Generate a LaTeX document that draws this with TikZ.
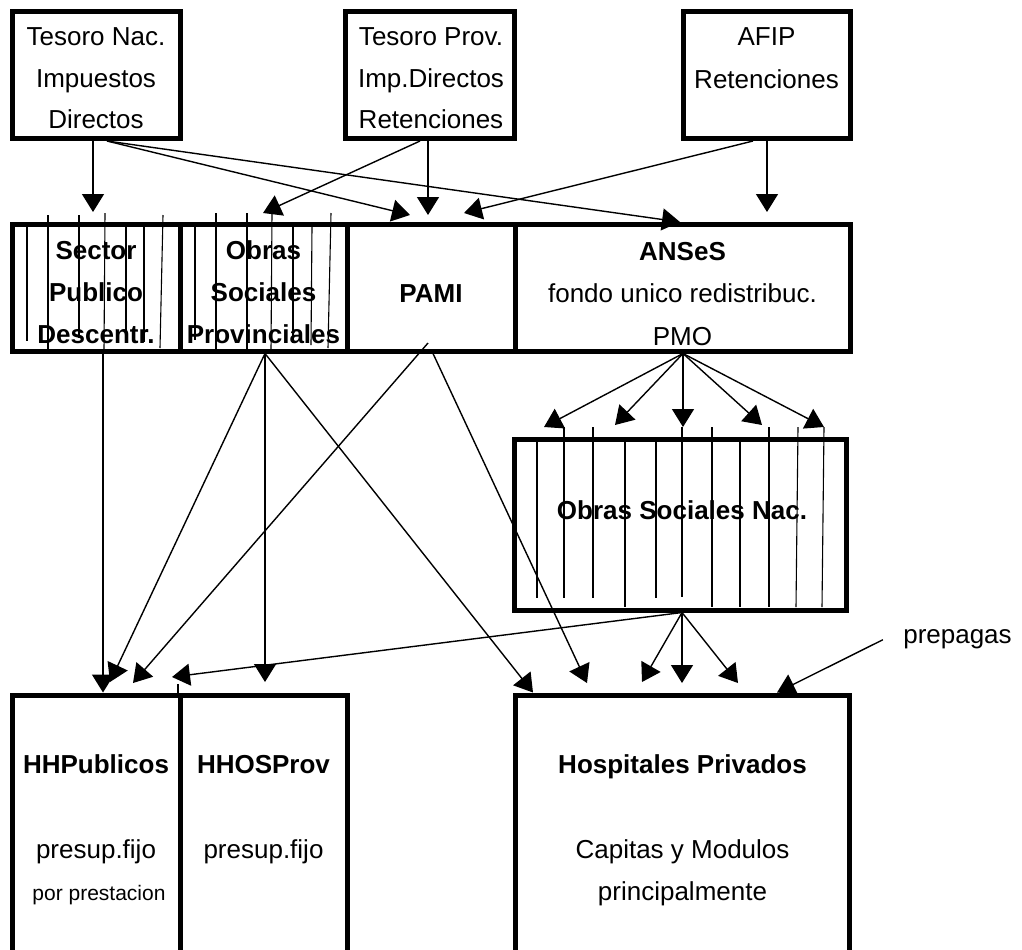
\documentclass[tikz,border=0pt]{standalone}
\usepackage{fontspec}
\setmainfont{Liberation Sans}
\usetikzlibrary{arrows.meta,calc}
\begin{document}
\begin{tikzpicture}[x=0.5pt,y=-0.5pt,
  bx/.style={draw, rectangle, line width=2.5pt, inner sep=0pt, outer sep=1.25pt},
  txt/.style={inner sep=0pt, anchor=base, font=\fontsize{13pt}{15pt}\selectfont},
  btxt/.style={inner sep=0pt, anchor=base, font=\fontsize{13pt}{15pt}\selectfont\bfseries},
  stxt/.style={inner sep=0pt, anchor=base, font=\fontsize{10.5pt}{12pt}\selectfont},
  conn/.style={line width=0.7pt, -{Triangle[length=9pt,width=11pt]}},
  hatch/.style={line width=0.55pt}]
\useasboundingbox (0,0) rectangle (1022,949);
\clip (0,0) rectangle (1022,949);

% ---- boxes ----
\node[bx, minimum width=84pt, minimum height=63.75pt] (tn) at (96,74.75) {};
\node[bx, minimum width=84.5pt, minimum height=63.75pt] (tp) at (430,74.75) {};
\node[bx, minimum width=83.5pt, minimum height=63.75pt] (afip) at (766.5,74.75) {};
\node[bx, minimum width=83.75pt, minimum height=63.25pt] (sec) at (96.25,287.75) {};
\node[bx, minimum width=83.5pt, minimum height=63.25pt] (osp) at (263.5,287.75) {};
\node[bx, minimum width=84pt, minimum height=63.25pt] (pami) at (431,287.75) {};
\node[bx, minimum width=167.5pt, minimum height=63.25pt] (anses) at (682.5,287.75) {};
\node[bx, minimum width=165.75pt, minimum height=85.25pt] (osn) at (680.25,524.75) {};
\node[bx, minimum width=83.75pt, minimum height=155pt] (hhp) at (96.25,850) {};
\node[bx, minimum width=83.5pt, minimum height=155pt] (hhos) at (263.5,850) {};
\node[bx, minimum width=167pt, minimum height=155pt] (hpriv) at (682.5,850) {};

% ---- hatching ----
\foreach \xa/\ya/\xb/\yb in {27/227/27/341, 48/215/48/350, 79/215/79/338, 105/213/104/351,
  126/227/126/337, 144/227/144/342, 163/215/160/348,
  195/227/195/340, 216/213/216/351, 247/213/247/351, 272/213/271/351,
  293/227/293/343, 312/227/311/345, 331/213/328/348,
  537/442/537/598, 564/427/564/598, 593/427/593/598, 625/442/625/607,
  656/442/656/598, 682/427/682/597, 712/427/712/607, 740/442/740/607,
  769/427/769/607, 798/427/796/607, 824/427/822/607, 178/684/178/694}
  \draw[hatch] (\xa,\ya) -- (\xb,\yb);

% ---- texts ----
\node[txt] (tn1) at (96,45) {Tesoro Nac.};
\node[txt] (tn2) at (96,87) {Impuestos};
\node[txt] (tn3) at (96,128) {Directos};
\node[txt] (tp1) at (431,45) {Tesoro Prov.};
\node[txt] (tp2) at (431,87) {Imp.Directos};
\node[txt] (tp3) at (431,128) {Retenciones};
\node[txt] (af1) at (766.5,45) {AFIP};
\node[txt] (af2) at (766.5,88) {Retenciones};
\node[btxt] (se1) at (96,259) {Sector};
\node[btxt] (se2) at (96,301) {Publico};
\node[btxt] (se3) at (96,343) {Descentr.};
\node[btxt] (op1) at (263.5,259) {Obras};
\node[btxt] (op2) at (263.5,301) {Sociales};
\node[btxt] (op3) at (263.5,343) {Provinciales};
\node[btxt] (pa1) at (431,302) {PAMI};
\node[btxt] (an1) at (682.5,260) {ANSeS};
\node[txt] (an2) at (682.5,302) {fondo unico redistribuc.};
\node[txt] (an3) at (682.5,345) {PMO};
\node[btxt] (on1) at (682,519) {Obras Sociales Nac.};
\node[btxt] (hp1) at (96,773) {HHPublicos};
\node[txt] (hp2) at (96,858) {presup.fijo};
\node[stxt] (hp3) at (99,900) {por prestacion};
\node[btxt] (ho1) at (263.5,773) {HHOSProv};
\node[txt] (ho2) at (263.5,858) {presup.fijo};
\node[btxt] (pr1) at (682.5,773) {Hospitales Privados};
\node[txt] (pr2) at (682.5,858) {Capitas y Modulos};
\node[txt] (pr3) at (682.5,900) {principalmente};
\node[txt] (prep) at (957.5,643) {prepagas};

% ---- connectors ----
\draw[conn] ($(tn.south)+(-3,0)$) -- ($(sec.north)+(-3.25,-10)$);
\draw[conn] ($(tn.south)+(11,0)$) -- ($(pami.north)+(-21,-7)$);
\draw[conn] ($(tn.south)+(11,0)$) -- ($(anses.north)+(-2.5,0)$);
\draw[conn] ($(tp.south)+(-2,0)$) -- ($(pami.north)+(-3,-7)$);
\draw[conn] ($(tp.south)+(-10,0)$) -- ($(osp.north)+(-0.5,-9)$);
\draw[conn] ($(afip.south)+(0.5,0)$) -- ($(anses.north)+(84.5,-10)$);
\draw[conn] ($(afip.south)+(-13.5,0)$) -- ($(pami.north)+(33,-9)$);
\foreach \dx/\dy in {-136.25/-10, -65.25/-12, 2.75/-10, 81.75/-12, 143.75/-10}
  \draw[conn] ($(anses.south)+(0.5,0)$) -- ($(osn.north)+(\dx,\dy)$);
\draw[conn] ($(osn.south)+(1.75,0)$) -- ($(hhp.north)+(75.75,-15.5)$);
\foreach \dx/\dy in {-40.5/-10.5, -0.5/-9.5, 55.5/-9.5}
  \draw[conn] ($(osn.south)+(1.75,0)$) -- ($(hpriv.north)+(\dx,\dy)$);
\draw[conn] ($(prep.west)+(-20,1)$) -- ($(hpriv.north)+(94.5,0)$);
\draw[conn] ($(sec.south)+(6.75,0)$) -- ($(hhp.north)+(6.75,0)$);
\draw[conn] ($(osp.south)+(1.5,0)$) -- ($(hhp.north)+(13.75,-10.5)$);
\draw[conn] ($(osp.south)+(1.5,0)$) -- ($(hhos.north)+(1.5,-10.5)$);
\draw[conn] ($(osp.south)+(1.5,0)$) -- ($(hpriv.north)+(-149.5,0)$);
\draw[conn] ($(pami.south)+(-3,-10.5)$) -- ($(hhp.north)+(36.75,-9.5)$);
\draw[conn] ($(pami.south)+(2,0)$) -- ($(hpriv.north)+(-95.5,-9.5)$);
\end{tikzpicture}
\end{document}
